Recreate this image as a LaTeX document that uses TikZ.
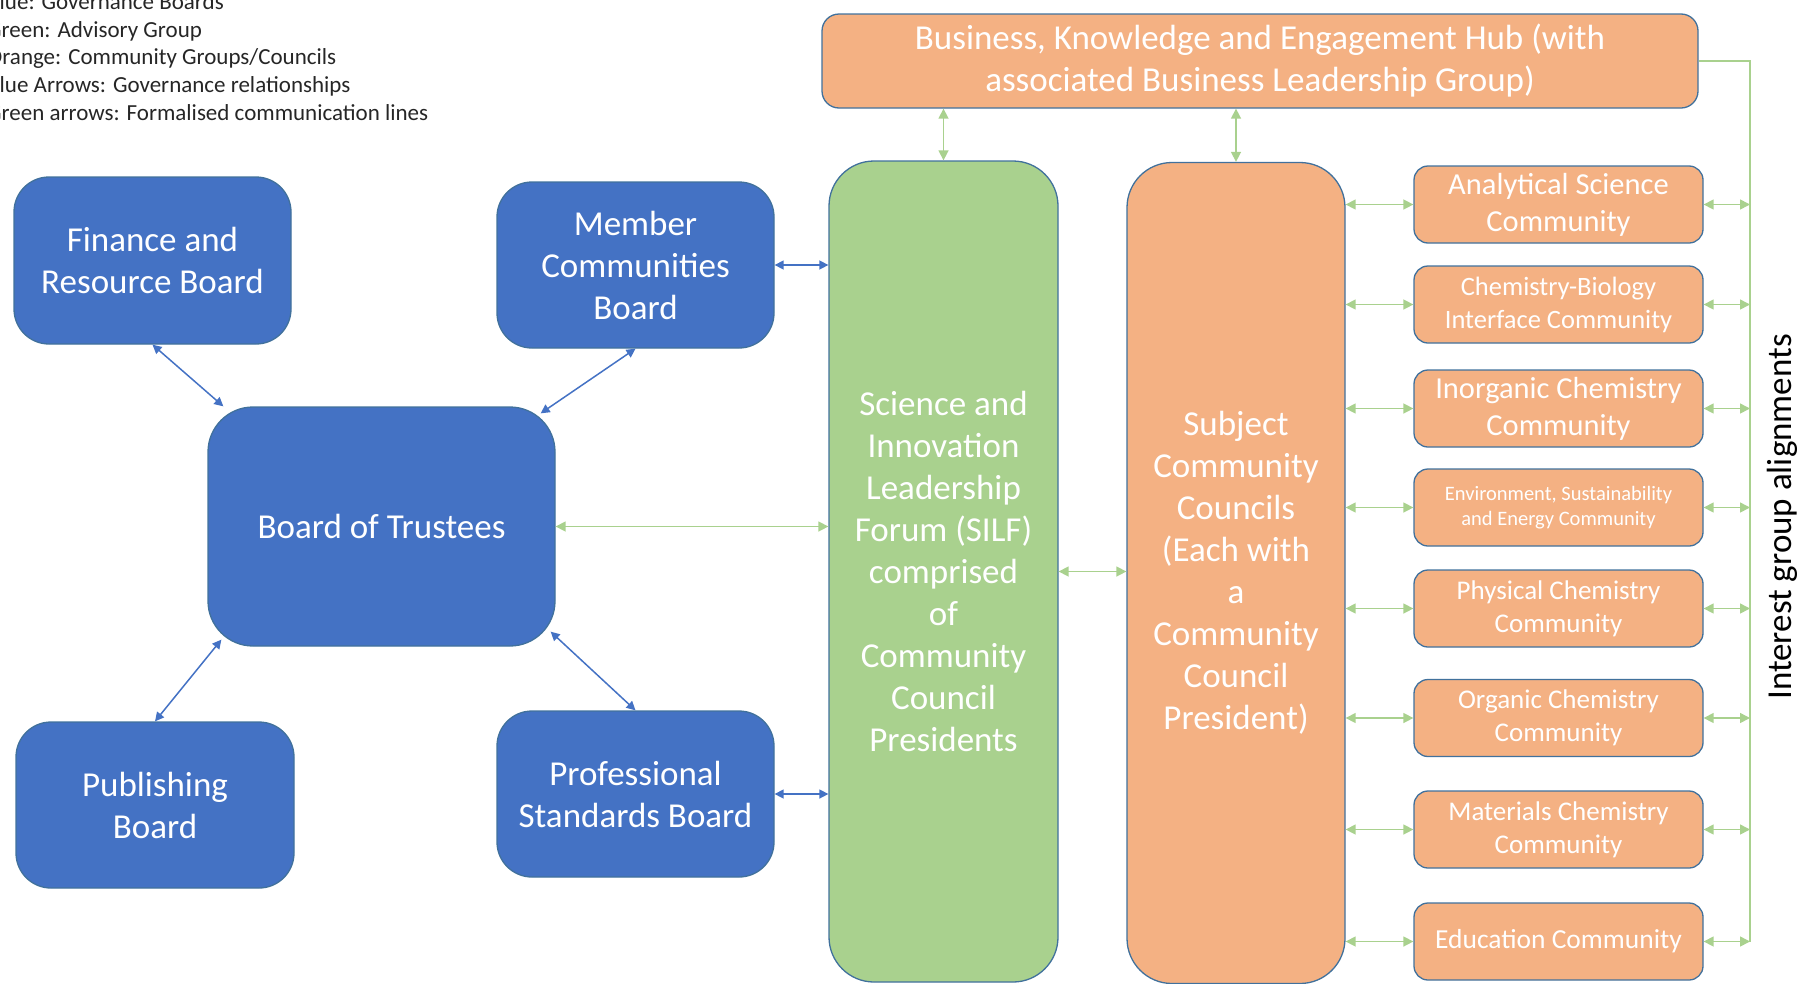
\documentclass[tikz,border=0pt]{standalone}
\usepackage{fontspec}
\setmainfont{Carlito}
\usetikzlibrary{arrows.meta,calc}
\definecolor{govblue}{HTML}{4472C4}
\definecolor{advgreen}{HTML}{A9D18E}
\definecolor{comorange}{HTML}{F4B183}
\definecolor{edgeblue}{HTML}{41719C}
\definecolor{legendtext}{HTML}{262626}
\begin{document}
\begin{tikzpicture}[x=1pt,y=-1pt,
  base/.style={draw=edgeblue, line width=1.3pt, text=white, align=center, inner sep=0pt},
  govbox/.style={base, fill=govblue, rounded corners=35pt, font=\fontsize{35}{42}\selectfont},
  tallbox/.style={base, rounded corners=45pt, font=\fontsize{35}{42}\selectfont, minimum height=821pt},
  commbox/.style={base, fill=comorange, rounded corners=14pt, minimum width=289pt, minimum height=77pt},
  barrow/.style={draw=govblue, line width=1.5pt, {Triangle[length=9pt,width=9pt]}-{Triangle[length=9pt,width=9pt]}},
  garrow/.style={draw=advgreen, line width=1.5pt, {Triangle[length=10pt,width=10pt]}-{Triangle[length=10pt,width=10pt]}},
  gline/.style={draw=advgreen, line width=1.5pt},
  legend/.style={anchor=base west, inner sep=0pt, text=legendtext, font=\fontsize{23}{27}\selectfont}
]
\useasboundingbox (0,0) rectangle (1803,983);

% legend
\node[legend] (l1) at (-13,9) {Blue: Governance Boards};
\node[legend] (l2) at (-13,37) {Green: Advisory Group};
\node[legend] (l3) at (-13,64.5) {Orange: Community Groups/Councils};
\node[legend] (l4) at (-13,92.5) {Blue Arrows: Governance relationships};
\node[legend] (l5) at (-13,120) {Green arrows: Formalised communication lines};

% governance boards
\node[govbox, minimum width=277pt, minimum height=167pt] (fin) at (152.5,260.5) {Finance and\\Resource Board};
\node[govbox, minimum width=277pt, minimum height=166pt] (mem) at (635.5,265) {Member\\Communities\\Board};
\node[govbox, rounded corners=45pt, minimum width=347pt, minimum height=239pt] (bot) at (381.5,526.5) {Board of Trustees};
\node[govbox, minimum width=278pt, minimum height=166pt] (pub) at (155,805) {Publishing\\Board};
\node[govbox, minimum width=277pt, minimum height=166pt] (pro) at (635.5,794) {Professional\\Standards Board};

% hub
\node[base, fill=comorange, rounded corners=17pt, minimum width=876pt, minimum height=94pt, font=\fontsize{35}{42}\selectfont] (hub) at (1260,61) {Business, Knowledge and Engagement Hub (with\\associated Business Leadership Group)};

% tall boxes
\node[tallbox, fill=advgreen, minimum width=229pt] (silf) at (943.5,571.5) {Science and\\Innovation\\Leadership\\Forum (SILF)\\comprised\\of\\Community\\Council\\Presidents};
\node[tallbox, fill=comorange, minimum width=218pt] (subj) at (1236,573) {Subject\\Community\\Councils\\(Each with\\a\\Community\\Council\\President)};

% communities
\node[commbox, font=\fontsize{30.5}{37}\selectfont] (c1) at (1558.5,204.5) {Analytical Science\\Community};
\node[commbox, font=\fontsize{26.5}{33}\selectfont] (c2) at (1558.5,304.5) {Chemistry-Biology\\Interface Community};
\node[commbox, font=\fontsize{30.5}{37}\selectfont] (c3) at (1558.5,408.5) {Inorganic Chemistry\\Community};
\node[commbox, font=\fontsize{20.5}{24.5}\selectfont] (c4) at (1558.5,507.5) {Environment, Sustainability\\and Energy Community};
\node[commbox, font=\fontsize{27}{33}\selectfont] (c5) at (1558.5,608.5) {Physical Chemistry\\Community};
\node[commbox, font=\fontsize{27}{33}\selectfont] (c6) at (1558.5,718) {Organic Chemistry\\Community};
\node[commbox, font=\fontsize{27}{33}\selectfont] (c7) at (1558.5,829.5) {Materials Chemistry\\Community};
\node[commbox, font=\fontsize{27.5}{33}\selectfont] (c8) at (1558.5,941.5) {Education Community};

% interest group label
\node[rotate=90, inner sep=0pt, font=\fontsize{35}{40}\selectfont] (igl) at (1782,517) {Interest group alignments};

% blue governance arrows
\draw[barrow] (fin.south) -- ([xshift=16pt]bot.north west);
\draw[barrow] (mem.south) -- ([xshift=-15pt,yshift=-7pt]bot.north east);
\draw[barrow] (pub.north) -- ([xshift=14pt,yshift=7pt]bot.south west);
\draw[barrow] (pro.north) -- ([xshift=-5pt,yshift=15pt]bot.south east);
\draw[barrow] (mem.east) -- (mem.east -| silf.west);
\draw[barrow] (pro.east) -- (pro.east -| silf.west);

% green communication arrows
\draw[garrow] (bot.east) -- (bot.east -| silf.west);
\draw[garrow] (silf.east) -- (silf.east -| subj.west);
\draw[garrow] (silf.north |- hub.south) -- (silf.north);
\draw[garrow] (subj.north |- hub.south) -- (subj.north);

\foreach \c in {c1,c2,c3,c4,c5,c6,c7,c8} {
  \draw[garrow] (\c.west -| subj.east) -- (\c.west);
}

\coordinate (vtop) at (1750,61);
\coordinate (vbot) at (1750,941.5);
\draw[gline] (hub.east) -- (vtop) -- (vbot);
\foreach \c in {c1,c2,c3,c4,c5,c6,c7,c8} {
  \draw[garrow] (\c.east) -- (\c.east -| vtop);
}
\end{tikzpicture}
\end{document}
